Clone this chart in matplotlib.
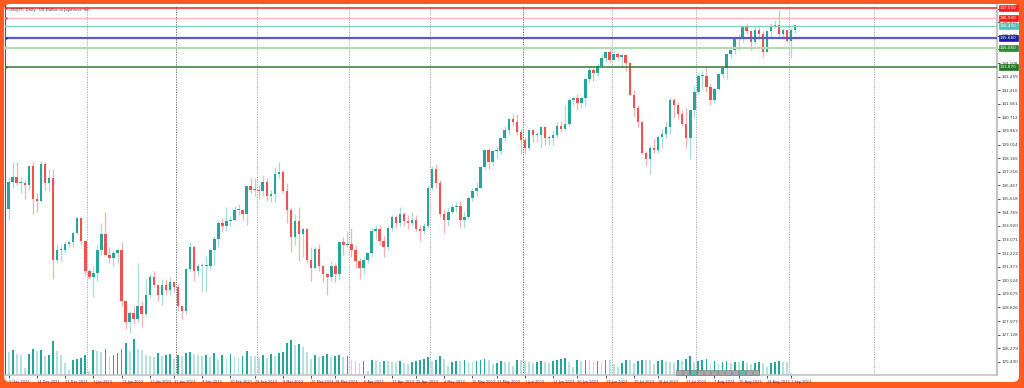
import numpy as np
import pandas as pd
import matplotlib
matplotlib.use("Agg")
from matplotlib import pyplot as plt
from matplotlib import patches, transforms

# ---- data (USDJPY daily) ----
first_day = "2022-12-05"
last_day = "2023-09-04"

opens = [
    135.0, 136.7, 137.0, 136.6, 136.6, 136.5, 137.7, 135.6, 135.5, 137.8, 136.6, 136.9, 131.8, 132.4, 132.4, 132.8, 132.9, 133.5, 134.4, 133.0,
    131.1, 130.7, 131.0, 132.4, 133.4, 132.1, 131.9, 132.2, 132.4, 129.2, 127.9, 128.5, 128.1, 128.9, 128.4, 129.6, 130.7, 130.2, 129.6, 130.2, 129.9, 130.4,
    130.1, 128.9, 128.6, 131.2, 132.6, 131.1, 131.4, 131.4, 131.4, 132.4, 133.1, 134.1, 133.9, 134.2, 134.3, 134.9, 134.9, 134.7, 136.4, 136.2,
    136.2, 136.1, 136.7, 135.8, 135.9, 137.2, 137.3, 136.1, 134.9, 133.2, 134.2, 133.4, 133.7, 131.8, 131.3, 132.5, 131.4, 130.9, 130.7, 131.4, 130.9, 132.9, 132.7,
    132.8, 132.4, 131.7, 131.3, 131.8, 132.2, 133.6, 133.7, 133.0, 132.6, 133.8, 134.5, 134.1, 134.7, 134.2, 134.1, 134.3, 133.7, 133.6, 133.9,
    136.3, 137.5, 136.6, 134.7, 134.3, 134.8, 135.1, 135.2, 134.3, 134.5, 135.7, 136.1, 136.3, 137.6, 138.7, 137.9, 138.6, 138.6, 139.4, 139.9, 140.6, 140.4, 139.8,
    139.3, 138.8, 139.9, 139.6, 139.6, 140.1, 139.4, 139.4, 139.6, 140.2, 140.0, 140.3, 141.8, 141.9, 141.6, 141.9, 143.1, 143.7, 143.5, 143.9, 144.4, 144.8,
    144.3, 144.7, 144.5, 144.6, 144.1, 142.1, 141.3, 140.4, 138.5, 138.1, 138.8, 138.7, 139.5, 139.7, 140.1, 141.8, 141.5, 140.9, 140.3, 139.4, 141.2,
    142.3, 143.3, 143.3, 142.6, 141.8, 142.5, 143.4, 143.8, 144.7, 144.9, 145.6, 145.6, 146.4, 146.1, 145.4, 146.2, 145.9, 144.8, 146.1, 146.4, 146.5, 145.9, 146.2,
    145.5, 146.2,
]
highs = [
    137.0, 137.9, 137.9, 137.0, 136.8, 137.7, 138.0, 136.0, 138.0, 137.9, 137.5, 137.5, 132.8, 132.7, 133.0, 133.0, 133.6, 134.5, 134.5, 133.0,
    131.2, 131.4, 132.7, 134.1, 134.8, 132.6, 132.4, 132.5, 132.9, 129.3, 128.6, 128.9, 131.6, 129.2, 130.6, 130.9, 131.1, 130.3, 130.6, 130.6, 130.7, 130.5,
    130.3, 129.0, 131.2, 132.9, 132.7, 131.6, 131.6, 132.1, 132.5, 133.3, 134.3, 134.4, 135.1, 134.5, 135.2, 135.3, 135.0, 136.5, 136.9, 136.9,
    136.5, 137.1, 136.9, 136.2, 137.6, 137.9, 137.4, 136.6, 135.1, 134.7, 135.1, 133.8, 133.8, 132.6, 132.6, 132.8, 131.5, 131.0, 131.7, 131.6, 133.0, 133.2, 133.6,
    133.8, 132.7, 131.9, 132.0, 132.3, 133.8, 134.0, 134.0, 133.3, 133.9, 134.6, 134.6, 135.1, 134.8, 134.6, 134.8, 134.6, 134.0, 134.1, 136.5,
    137.7, 137.8, 136.8, 135.0, 135.1, 135.3, 135.4, 135.5, 134.8, 135.8, 136.3, 136.7, 137.7, 138.7, 138.8, 138.7, 138.9, 139.5, 140.2, 140.7, 140.9, 140.9, 140.0,
    139.5, 140.0, 140.0, 139.8, 140.2, 140.2, 139.6, 139.9, 140.4, 140.5, 141.5, 141.9, 142.0, 142.2, 142.0, 143.2, 143.9, 143.8, 144.1, 144.7, 144.8, 145.1,
    144.9, 144.8, 144.7, 144.7, 144.2, 142.4, 141.5, 140.5, 138.6, 139.0, 139.4, 139.6, 140.0, 140.5, 142.0, 141.9, 141.7, 141.2, 141.3, 141.2, 142.7,
    143.5, 143.6, 143.9, 142.8, 142.6, 143.4, 143.9, 144.7, 145.0, 145.6, 145.9, 146.4, 146.6, 146.2, 146.4, 146.4, 146.1, 146.1, 146.6, 146.8, 147.4, 146.3, 146.2,
    146.3, 146.5,
]
lows = [
    134.3, 136.3, 136.5, 136.0, 135.6, 136.2, 134.7, 134.8, 135.4, 136.2, 136.1, 130.6, 131.6, 131.7, 132.2, 132.6, 132.6, 133.4, 132.8, 130.8,
    130.6, 129.5, 130.5, 132.1, 132.2, 131.6, 131.4, 131.6, 128.9, 127.5, 127.2, 127.8, 127.9, 127.6, 128.3, 129.4, 130.1, 129.2, 129.0, 129.6, 129.6, 129.8,
    128.6, 128.1, 128.4, 131.1, 130.5, 130.8, 129.8, 129.8, 131.2, 131.5, 132.6, 133.6, 133.6, 133.9, 134.2, 134.6, 134.3, 134.0, 136.0, 135.8,
    135.6, 135.8, 135.5, 135.4, 135.4, 136.9, 136.0, 134.1, 132.3, 132.7, 131.7, 132.0, 131.6, 130.5, 131.2, 131.1, 130.4, 129.6, 130.5, 130.4, 130.6, 132.1, 132.6,
    132.0, 131.3, 130.6, 130.9, 131.6, 132.0, 133.1, 132.7, 132.0, 132.4, 133.6, 133.8, 133.9, 133.9, 133.7, 133.9, 133.6, 133.0, 133.4, 133.8,
    136.2, 136.3, 134.5, 133.5, 133.9, 134.7, 134.8, 133.8, 133.8, 134.4, 135.5, 135.8, 136.3, 137.5, 137.5, 137.7, 138.1, 138.4, 139.2, 139.6, 140.2, 139.6, 138.4,
    138.4, 138.7, 139.2, 139.2, 138.8, 139.0, 139.0, 139.0, 139.4, 139.8, 139.9, 140.2, 141.5, 141.2, 141.3, 141.4, 142.9, 143.0, 143.3, 143.8, 144.2, 144.1,
    144.3, 144.3, 143.8, 143.6, 142.1, 140.8, 140.1, 138.4, 137.7, 137.2, 138.5, 138.5, 138.8, 139.4, 139.7, 140.7, 140.6, 140.2, 138.8, 138.1, 140.7,
    142.2, 142.5, 142.3, 141.5, 141.6, 142.4, 143.2, 143.1, 144.4, 144.7, 144.9, 145.4, 145.9, 144.9, 145.3, 145.6, 144.5, 144.8, 145.7, 146.3, 145.8, 145.6, 145.4,
    144.4, 146.0,
]
closes = [
    136.7, 137.0, 136.6, 136.6, 136.5, 137.7, 135.6, 135.5, 137.8, 136.6, 136.9, 131.8, 132.4, 132.4, 132.8, 132.9, 133.5, 134.4, 133.0, 131.1,
    130.7, 131.0, 132.4, 133.4, 132.1, 131.9, 132.2, 132.4, 129.2, 127.9, 128.5, 128.1, 128.9, 128.4, 129.6, 130.7, 130.2, 129.6, 130.2, 129.9, 130.4, 130.1,
    128.9, 128.6, 131.2, 132.6, 131.1, 131.4, 131.4, 131.4, 132.4, 133.1, 134.1, 133.9, 134.2, 134.3, 134.9, 134.9, 134.7, 136.4, 136.2, 136.2,
    136.1, 136.7, 135.8, 135.9, 137.2, 137.3, 136.1, 134.9, 133.2, 134.2, 133.4, 133.7, 131.8, 131.3, 132.5, 131.4, 130.9, 130.7, 131.4, 130.9, 132.9, 132.7, 132.8,
    132.4, 131.7, 131.3, 131.8, 132.2, 133.6, 133.7, 133.0, 132.6, 133.8, 134.5, 134.1, 134.7, 134.2, 134.1, 134.3, 133.7, 133.6, 133.9, 136.3,
    137.5, 136.6, 134.7, 134.3, 134.8, 135.1, 135.2, 134.3, 134.5, 135.7, 136.1, 136.3, 137.6, 138.7, 137.9, 138.6, 138.6, 139.4, 139.9, 140.6, 140.4, 139.8, 139.3,
    138.8, 139.9, 139.6, 139.6, 140.1, 139.4, 139.4, 139.6, 140.2, 140.0, 140.3, 141.8, 141.9, 141.6, 141.9, 143.1, 143.7, 143.5, 143.9, 144.4, 144.8, 144.3,
    144.7, 144.5, 144.6, 144.1, 142.1, 141.3, 140.4, 138.5, 138.1, 138.8, 138.7, 139.5, 139.7, 140.1, 141.8, 141.5, 140.9, 140.3, 139.4, 141.2, 142.3,
    143.3, 143.3, 142.6, 141.8, 142.5, 143.4, 143.8, 144.7, 144.9, 145.6, 145.6, 146.4, 146.1, 145.4, 146.2, 145.9, 144.8, 146.1, 146.4, 146.5, 145.9, 146.2, 145.5,
    146.2, 146.5,
]
volumes = [
    115, 125, 105, 100, 35, 105, 130, 120, 125, 95, 100, 170, 120, 100, 60, 25, 75, 80, 85, 100,
    20, 125, 120, 115, 130, 95, 100, 110, 130, 160, 120, 180, 130, 125, 100, 95, 90, 110, 95, 100, 105, 80,
    100, 95, 110, 115, 105, 100, 95, 100, 90, 110, 75, 100, 80, 105, 95, 85, 95, 120, 95, 95,
    90, 100, 85, 105, 95, 110, 115, 160, 175, 150, 155, 140, 115, 80, 100, 90, 95, 105, 90, 95, 100, 90, 95,
    75, 70, 60, 70, 20, 75, 70, 65, 70, 70, 65, 60, 70, 60, 55, 65, 70, 75, 80, 90,
    70, 75, 95, 80, 45, 65, 70, 70, 75, 65, 65, 70, 75, 80, 75, 55, 60, 70, 65, 65, 45, 75, 75,
    70, 65, 60, 65, 70, 65, 60, 70, 75, 80, 85, 65, 40, 75, 70, 75, 75, 65, 70, 65, 75, 75,
    55, 40, 60, 75, 75, 60, 70, 75, 75, 75, 55, 70, 75, 70, 65, 60, 75, 70, 80, 95, 65,
    70, 75, 80, 60, 70, 55, 65, 70, 60, 65, 65, 70, 60, 55, 60, 65, 60, 40, 60, 65, 70, 65, 65,
    12, 4,
]

# horizontal lines drawn on the chart (price, colour, label colour)
level_prices = [147.55, 146.93, 146.43, 145.68, 145.05, 143.87]
level_colors = ["#ff3030", "#ffb8b8", "#80d2c6", "#5a5ac8", "#b4dab4", "#2f7d32"]
level_box_colors = ["#ff1c1c", "#ff1c1c", "#4fc4b4", "#1c1ca8", "#2e8b2e", "#1f7a22"]
level_widths = [1.2, 1.0, 1.0, 1.6, 1.6, 1.1]
level_marks = [True, True, False, True, False, True]

price_ticks = [125.430, 126.279, 127.128, 127.977, 128.826, 129.675, 130.524, 131.373,
               132.222, 133.071, 133.920, 134.769, 135.618, 136.467, 137.316, 138.165,
               139.014, 139.863, 140.712, 141.561, 142.410, 143.259, 144.108, 144.957,
               145.806, 146.655, 147.504]

date_labels = ["5 Dec 2022", "14 Dec 2022", "23 Dec 2022", "3 Jan 2023", "12 Jan 2023",
               "23 Jan 2023", "31 Jan 2023", "9 Feb 2023", "20 Feb 2023", "28 Feb 2023",
               "9 Mar 2023", "20 Mar 2023", "28 Mar 2023", "6 Apr 2023", "17 Apr 2023",
               "25 Apr 2023", "4 May 2023", "15 May 2023", "23 May 2023", "1 Jun 2023",
               "12 Jun 2023", "20 Jun 2023", "29 Jun 2023", "10 Jul 2023", "18 Jul 2023",
               "27 Jul 2023", "7 Aug 2023", "15 Aug 2023", "24 Aug 2023", "1 Sep 2023"]

title = "USDJPY, Daily:  US Dollar vs Japanese Yen"

# ---- figure ----
W, H = 1024, 388
fig = plt.figure(figsize=(W / 100, H / 100), dpi=100)
fig.patch.set_facecolor("#ff5a1f")

# white card inside the orange frame
card = patches.FancyBboxPatch((4, 6), 1015, 378, boxstyle="round,pad=0,rounding_size=6",
                              transform=transforms.IdentityTransform(),
                              fc="white", ec="none", zorder=-10)
fig.patches.append(card)

rect = [5 / W, (H - 375) / H, 992 / W, 370 / H]
ax_v = fig.add_axes(rect, zorder=1)
ax = fig.add_axes(rect, zorder=2)
ax_v.set_facecolor("none")
ax.set_facecolor("none")

dates = pd.bdate_range(first_day, last_day)
n = len(dates)
idx = np.arange(n)
o = np.array(opens)
h = np.array(highs)
l = np.array(lows)
c = np.array(closes)
v = np.array(volumes)

x_right = -0.5 + 992 / 4.04
ax.set_xlim(-0.9, x_right)
ax_v.set_xlim(-0.9, x_right)
ax.set_ylim(124.6, 147.74)

# volumes
vcol = ["#26a69a" if i > 0 and v[i] > v[i - 1] else "#b7e1dc" for i in range(n)]
ax_v.bar(idx, v, width=0.45, color=vcol, linewidth=0)
ax_v.set_ylim(0, 1850)
ax_v.axis("off")

# month separators
ext = pd.bdate_range(first_day, "2023-10-31")
month_start = [i for i in range(1, len(ext)) if ext[i].month != ext[i - 1].month]
for i in month_start:
    dark = ext[i].month in (2, 6)
    ax.axvline(i - 0.5, color="#555555" if dark else "#9a9a9a", lw=0.6,
               ls=(0, (1.5, 1.5)), zorder=1)

# candles
up = c >= o
col = np.where(up, "#26a69a", "#ef5350")
wick = np.where(up, "#a8dcd6", "#f7b2b0")
ax.vlines(idx, l, h, colors=wick, lw=0.9, zorder=2)
ax.bar(idx, np.maximum(np.abs(c - o), 0.06), bottom=np.minimum(o, c), width=0.62,
       color=col, linewidth=0, zorder=3)

# levels
trans = transforms.blended_transform_factory(ax.transAxes, ax.transData)
for p, lc, bc, lw, mk in zip(level_prices, level_colors, level_box_colors, level_widths, level_marks):
    ax.axhline(p, color=lc, lw=lw, zorder=4)
    if mk:
        ax.plot([0.0015], [p], marker="s", ms=1.4, mew=0, color=bc, transform=trans,
                clip_on=False, zorder=6)
    ax.text(1.003, p, f"{p:.3f}", transform=trans, fontsize=3.0, color="white",
            va="center", ha="left", zorder=7,
            bbox=dict(boxstyle="square,pad=0.25", fc=bc, ec=bc, lw=0.5))

# axes styling
ax.spines["top"].set_visible(False)
ax.spines["left"].set_color("#555555")
ax.spines["left"].set_linewidth(0.8)
ax.spines["right"].set_color("#c4c4c4")
ax.spines["right"].set_linewidth(1.6)
ax.spines["bottom"].set_color("#c4c4c4")
ax.spines["bottom"].set_linewidth(1.2)

ax.yaxis.tick_right()
ax.set_yticks(price_ticks)
ax.set_yticklabels([f"{t:.3f}" for t in price_ticks])
ax.tick_params(axis="y", direction="out", length=2, width=0.6, pad=1,
               labelsize=3.0, colors="#333333")

tick_pos = [dates.get_loc(pd.Timestamp(d)) for d in date_labels]
ax.set_xticks(tick_pos)
ax.set_xticklabels(date_labels, ha="left")
ax.tick_params(axis="x", direction="out", length=2, width=0.6, pad=1.5,
               labelsize=2.5, colors="#333333")

ax.text(0.004, 0.992, title, transform=ax.transAxes, fontsize=2.8, color="#333333",
        ha="left", va="top", zorder=8)

# small one-click trading strip near the bottom
for k in range(12):
    fc = "#5fb8ae" if k in (2, 9) else "#a8a8a8"
    fig.patches.append(patches.Rectangle((676 + k * 7, 388 - 375), 6, 5,
                                         transform=transforms.IdentityTransform(),
                                         fc=fc, ec="#6e6e6e", lw=0.4, zorder=5))

fig.savefig("out.png", dpi=100, facecolor=fig.get_facecolor())
